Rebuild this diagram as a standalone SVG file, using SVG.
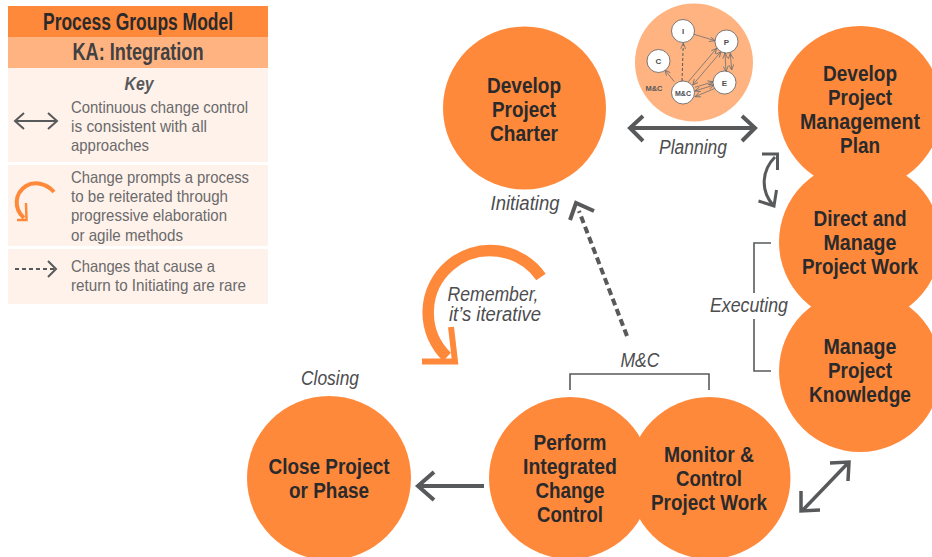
<svg xmlns="http://www.w3.org/2000/svg" width="932" height="557" viewBox="0 0 932 557">
<style>
text{font-family:"Liberation Sans",Arial,sans-serif;text-anchor:middle}
.n{fill:#ff893b}
.t{font-size:22.5px;font-weight:bold;fill:#2a2a2c}
.i{font-size:20.5px;font-style:italic;fill:#4d4d4f}
.k{font-size:16.5px;fill:#6a6a6c;text-anchor:start}
.a{fill:none;stroke:#58595b;stroke-width:4}
.b{fill:none;stroke:#58595b;stroke-width:1.6}
.s{fill:#fff;stroke:#58595b;stroke-width:.8}
.m{font-size:8px;font-weight:bold;fill:#4d4d4f}
.l{fill:none;stroke:#6d6e70;stroke-width:.8;marker-end:url(#h)}
</style>
<defs><marker id="h" viewBox="0 0 6 6" refX="5.500" refY="3" markerWidth="6" markerHeight="6" markerUnits="userSpaceOnUse" orient="auto-start-reverse"><path d="M0 .5L5.500 3L0 5.500" fill="none" stroke="#6d6e70" stroke-width=".8"/></marker></defs>
<rect width="932" height="557" fill="#fff"/>
<g id="legend">
<rect x="8" y="6" width="260" height="31" fill="#ff893b"/>
<rect x="8" y="37" width="260" height="31" fill="#ffb380"/>
<rect x="8" y="68" width="260" height="94" fill="#fff2ea"/>
<rect x="8" y="165" width="260" height="81" fill="#fff2ea"/>
<rect x="8" y="249" width="260" height="55" fill="#fff2ea"/>
<text x="138" y="30" textLength="190" lengthAdjust="spacingAndGlyphs" style="font-size:23px;font-weight:bold;fill:#2a2a2c">Process Groups Model</text>
<text x="138" y="60" textLength="131" lengthAdjust="spacingAndGlyphs" style="font-size:23px;font-weight:bold;fill:#414042">KA: Integration</text>
<text x="139" y="90" textLength="29" lengthAdjust="spacingAndGlyphs" style="font-size:18px;font-weight:bold;font-style:italic;fill:#58595b">Key</text>
<text class="k" x="71" y="113" textLength="177" lengthAdjust="spacingAndGlyphs">Continuous change control</text>
<text class="k" x="71" y="132" textLength="136" lengthAdjust="spacingAndGlyphs">is consistent with all</text>
<text class="k" x="71" y="151" textLength="78" lengthAdjust="spacingAndGlyphs">approaches</text>
<text class="k" x="71" y="183" textLength="178" lengthAdjust="spacingAndGlyphs">Change prompts a process</text>
<text class="k" x="71" y="202" textLength="157" lengthAdjust="spacingAndGlyphs">to be reiterated through</text>
<text class="k" x="71" y="221" textLength="156" lengthAdjust="spacingAndGlyphs">progressive elaboration</text>
<text class="k" x="71" y="241" textLength="112" lengthAdjust="spacingAndGlyphs">or agile methods</text>
<text class="k" x="71" y="272" textLength="144" lengthAdjust="spacingAndGlyphs">Changes that cause a</text>
<text class="k" x="71" y="291" textLength="175" lengthAdjust="spacingAndGlyphs">return to Initiating are rare</text>
<path d="M15 121H57M24 113L15 121L24 129M48 113L57 121L48 129" fill="none" stroke="#58595b" stroke-width="2"/>
<path d="M54 192C46 183 34 181 26 186C15 193 13 208 24 218" fill="none" stroke="#ff893b" stroke-width="4"/>
<path d="M26 203L26.500 220L17 220" fill="none" stroke="#ff893b" stroke-width="2.5"/>
<path d="M15 269H55" fill="none" stroke="#58595b" stroke-width="2" stroke-dasharray="4 3"/>
<path d="M48 261L56 269L48 277" fill="none" stroke="#58595b" stroke-width="2"/>
</g>
<g id="connectors">
<path class="a" d="M632 128H755M643 116L630 128L643 141M742 116L755 128L742 141"/>
<path class="a" style="stroke-width:3" d="M775 157C762 170 760 190 773 205M762 154L777.500 154L777.500 170M758.500 201L774 206L776.500 190"/>
<path class="a" stroke-dasharray="7 4" d="M627 336L579 211"/>
<path class="a" d="M570 220L576 203L594 211"/>
<path class="b" d="M771 243H754V293M754 319V371H771"/>
<path class="b" d="M570 390V374H709V390"/>
<path class="a" d="M484 486H418M434 472L418 486L434 500"/>
<path class="a" style="stroke-width:3.5" d="M802 511L849 462M830 463L849 462L848 481M801 491L801 511L820 510"/>
<path d="M541 277A62 62 0 1 0 447 357" fill="none" stroke="#ff893b" stroke-width="11.5"/>
<path d="M451 327L455 361.500L422 361.500" fill="none" stroke="#ff893b" stroke-width="6"/>
</g>
<g id="planning-inset">
<circle cx="694" cy="62.5" r="59" fill="#ffb380"/>
<path class="l" d="M694 34.300L715 40.700"/>
<path class="l" stroke-dasharray="3 2" style="stroke:#58595b;stroke-width:1" d="M682 81L683.300 43.300"/>
<path class="l" d="M674.300 81.700L665 70"/>
<path class="l" d="M688.300 81.700L716.700 48.300"/>
<path class="l" style="marker-start:url(#h)" d="M692.700 85L721 51.700"/>
<path class="l" d="M695 87.300L713.300 81.700"/>
<path class="l" style="marker-start:url(#h)" d="M695 91L714 85"/>
<path class="l" style="marker-end:none;marker-start:url(#h)" d="M695 96.700L715 88.300"/>
<path class="l" style="marker-start:url(#h)" d="M725 53L726 71.700"/>
<path class="l" style="marker-start:url(#h)" d="M730.300 53.300L731.700 70"/>
<circle class="s" cx="683" cy="31" r="11.5"/><text class="m" x="683" y="34">I</text>
<circle class="s" cx="726.5" cy="41.5" r="11.5"/><text class="m" x="726.5" y="44.500">P</text>
<circle class="s" cx="658.500" cy="61" r="11.5"/><text class="m" x="658.500" y="64">C</text>
<circle class="s" cx="724.500" cy="82.500" r="11.5"/><text class="m" x="724.500" y="85.500">E</text>
<circle class="s" cx="683" cy="92.500" r="11.5"/><text class="m" x="683" y="95.500" textLength="16" lengthAdjust="spacingAndGlyphs">M&amp;C</text>
<text class="m" x="654" y="91" textLength="17" lengthAdjust="spacingAndGlyphs" style="fill:#58595b">M&amp;C</text>
</g>
<g id="develop-charter"><circle class="n" cx="524.500" cy="108" r="81.500"/>
<text class="t" x="524" y="93" textLength="74" lengthAdjust="spacingAndGlyphs">Develop</text><text class="t" x="524" y="117" textLength="64" lengthAdjust="spacingAndGlyphs">Project</text><text class="t" x="524" y="141" textLength="68" lengthAdjust="spacingAndGlyphs">Charter</text></g>
<g id="develop-plan"><circle class="n" cx="860" cy="108" r="82"/>
<text class="t" x="860" y="81" textLength="74" lengthAdjust="spacingAndGlyphs">Develop</text><text class="t" x="860" y="105" textLength="64" lengthAdjust="spacingAndGlyphs">Project</text><text class="t" x="860" y="129" textLength="120" lengthAdjust="spacingAndGlyphs">Management</text><text class="t" x="860" y="153" textLength="40" lengthAdjust="spacingAndGlyphs">Plan</text></g>
<g id="direct-manage"><circle class="n" cx="860" cy="242" r="81"/>
<text class="t" x="860" y="226" textLength="93" lengthAdjust="spacingAndGlyphs">Direct and</text><text class="t" x="860" y="250" textLength="73" lengthAdjust="spacingAndGlyphs">Manage</text><text class="t" x="860" y="274" textLength="116" lengthAdjust="spacingAndGlyphs">Project Work</text></g>
<g id="manage-knowledge"><circle class="n" cx="860" cy="371" r="81"/>
<text class="t" x="860" y="354" textLength="73" lengthAdjust="spacingAndGlyphs">Manage</text><text class="t" x="860" y="378" textLength="64" lengthAdjust="spacingAndGlyphs">Project</text><text class="t" x="860" y="402" textLength="102" lengthAdjust="spacingAndGlyphs">Knowledge</text></g>
<g id="close-project"><circle class="n" cx="329" cy="478" r="82"/>
<text class="t" x="329" y="474" textLength="121" lengthAdjust="spacingAndGlyphs">Close Project</text><text class="t" x="329" y="498" textLength="80" lengthAdjust="spacingAndGlyphs">or Phase</text></g>
<g id="perform-change"><circle class="n" cx="570" cy="478" r="81"/>
<text class="t" x="570" y="450" textLength="73" lengthAdjust="spacingAndGlyphs">Perform</text><text class="t" x="570" y="474" textLength="94" lengthAdjust="spacingAndGlyphs">Integrated</text><text class="t" x="570" y="498" textLength="69" lengthAdjust="spacingAndGlyphs">Change</text><text class="t" x="570" y="522" textLength="66" lengthAdjust="spacingAndGlyphs">Control</text></g>
<g id="monitor-control"><circle class="n" cx="709.500" cy="478" r="81"/>
<text class="t" x="709" y="462" textLength="90" lengthAdjust="spacingAndGlyphs">Monitor &amp;</text><text class="t" x="709" y="486" textLength="66" lengthAdjust="spacingAndGlyphs">Control</text><text class="t" x="709" y="510" textLength="116" lengthAdjust="spacingAndGlyphs">Project Work</text></g>
<g id="labels">
<text class="i" x="693" y="154" textLength="68" lengthAdjust="spacingAndGlyphs">Planning</text>
<text class="i" x="525" y="210" textLength="69" lengthAdjust="spacingAndGlyphs">Initiating</text>
<text class="i" x="749" y="312" textLength="78" lengthAdjust="spacingAndGlyphs">Executing</text>
<text class="i" x="640" y="367" textLength="39" lengthAdjust="spacingAndGlyphs">M&amp;C</text>
<text class="i" x="330" y="385" textLength="58" lengthAdjust="spacingAndGlyphs">Closing</text>
<text class="i" x="493" y="301" textLength="91" lengthAdjust="spacingAndGlyphs">Remember,</text>
<text class="i" x="495" y="321" textLength="92" lengthAdjust="spacingAndGlyphs">it’s iterative</text>
</g>
</svg>
